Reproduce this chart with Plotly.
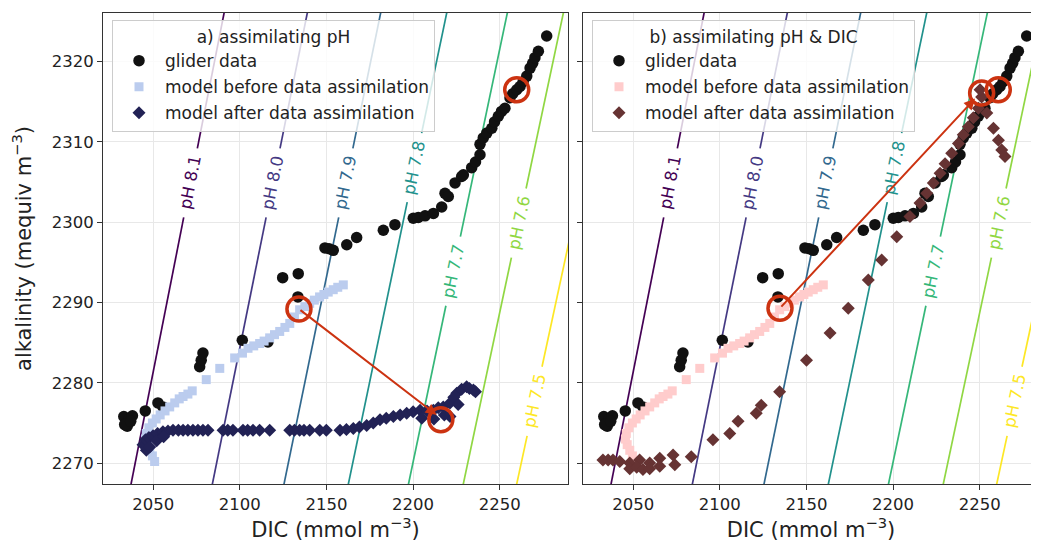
import math
import numpy as np
import plotly.graph_objects as go

# ---------------- data ----------------
glider_dic = [2033.0, 2034.5, 2036.0, 2038.0, 2035.0, 2033.5, 2037.0, 2045.4, 2052.7, 2055.6,
              2076.8, 2077.7, 2078.7, 2101.4, 2116.2, 2124.7, 2133.7, 2133.5, 2149.1, 2151.5,
              2153.9, 2161.7, 2167.4, 2182.8, 2189.5, 2200.1, 2203.0, 2206.9, 2211.7, 2216.5,
              2218.4, 2220.3, 2224.2, 2228.0, 2229.0, 2233.8, 2236.0, 2238.6, 2238.6, 2240.5,
              2242.5, 2245.4, 2247.0, 2249.2, 2251.0, 2253.0, 2255.9, 2257.5, 2259.8, 2261.7,
              2263.5, 2265.6, 2267.5, 2269.0, 2270.3, 2272.3, 2277.1]
glider_alk = [2275.8, 2275.0, 2275.5, 2275.9, 2274.6, 2274.8, 2275.2, 2276.5, 2277.5, 2277.0,
              2282.0, 2282.8, 2283.7, 2285.3, 2285.1, 2293.1, 2293.6, 2290.7, 2296.8, 2296.7,
              2296.5, 2297.2, 2298.1, 2299.0, 2299.7, 2300.5, 2300.6, 2300.8, 2301.1, 2301.9,
              2303.6, 2303.2, 2304.9, 2305.7, 2305.9, 2306.8, 2307.5, 2308.4, 2309.7, 2310.5,
              2311.1, 2311.7, 2312.5, 2313.2, 2313.8, 2314.2, 2315.5, 2316.0, 2316.5, 2316.9,
              2317.5, 2318.2, 2319.2, 2319.8, 2320.5, 2321.3, 2323.2]

before_dic = [2050.8, 2049.5, 2048.0, 2046.5, 2045.5, 2046.0, 2047.5, 2049.5, 2051.7, 2054.0,
              2056.8, 2059.5, 2062.4, 2065.0, 2067.2, 2070.0, 2072.5, 2080.6, 2088.4, 2097.0,
              2101.5, 2104.7, 2108.0, 2111.4, 2114.0, 2117.2, 2120.0, 2123.0, 2126.0, 2128.8,
              2131.5, 2134.5, 2137.5, 2140.3, 2143.0, 2146.0, 2148.5, 2151.0, 2153.9, 2156.5,
              2159.7]
before_alk = [2270.2, 2270.9, 2271.6, 2272.3, 2273.0, 2273.7, 2274.4, 2275.0, 2275.5, 2276.0,
              2276.5, 2277.0, 2277.5, 2278.0, 2278.3, 2278.6, 2279.0, 2280.4, 2281.8, 2283.1,
              2283.7, 2284.3, 2284.6, 2284.9, 2285.2, 2285.6, 2286.0, 2286.4, 2286.9, 2287.4,
              2288.2, 2289.1, 2289.5, 2289.9, 2290.3, 2290.7, 2291.0, 2291.3, 2291.6, 2291.9,
              2292.2]

after_ph_dic = [2046.0, 2044.1, 2045.5, 2047.5, 2049.9, 2052.5, 2055.6, 2058.5, 2061.4, 2064.5,
                2067.2, 2070.0, 2072.9, 2075.8, 2078.7, 2081.6, 2090.3, 2093.0, 2096.0, 2101.8,
                2104.5, 2107.6, 2111.4, 2117.2, 2128.8, 2131.5, 2134.5, 2137.0, 2140.3, 2146.1,
                2149.9, 2157.8, 2161.5, 2165.5, 2169.0, 2173.2, 2177.0, 2180.9, 2184.5, 2188.6,
                2192.5, 2196.3, 2200.0, 2204.0, 2208.0, 2211.7, 2214.5, 2217.4, 2221.3, 2221.3,
                2223.5, 2225.2, 2228.0, 2230.9, 2232.5, 2234.8, 2236.0,
                2048.0, 2052.0, 2056.0, 2205.0, 2212.0, 2218.0, 2226.0]
after_ph_alk = [2271.6, 2272.3, 2272.9, 2273.2, 2273.4, 2273.7, 2273.9, 2274.0, 2274.1, 2274.1,
                2274.1, 2274.1, 2274.1, 2274.1, 2274.1, 2274.1, 2274.1, 2274.1, 2274.1, 2274.1,
                2274.1, 2274.1, 2274.1, 2274.1, 2274.1, 2274.1, 2274.1, 2274.1, 2274.1, 2274.1,
                2274.1, 2274.1, 2274.2, 2274.3, 2274.5, 2274.7, 2275.0, 2275.4, 2275.6, 2275.8,
                2276.0, 2276.2, 2276.4, 2276.6, 2276.5, 2276.6, 2276.9, 2277.0, 2277.5, 2275.8,
                2278.2, 2278.7, 2279.2, 2279.5, 2279.3, 2279.1, 2278.9,
                2272.0, 2272.8, 2273.3, 2275.6, 2275.5, 2276.0, 2277.3]

after_both_dic = [2032.5, 2035.5, 2038.3, 2042.2, 2048.0, 2053.7, 2059.5, 2065.3, 2048.0, 2052.0,
                  2055.6, 2059.5, 2065.3, 2073.0, 2074.0, 2083.5, 2096.0, 2105.7, 2110.5, 2121.0,
                  2123.9, 2134.5, 2150.0, 2163.6, 2174.1, 2185.7, 2193.4, 2202.1, 2209.7, 2215.5,
                  2219.4, 2223.2, 2227.1, 2230.0, 2233.8, 2237.7, 2240.5, 2243.4, 2246.3, 2249.2,
                  2251.1, 2250.2, 2254.1, 2257.9, 2260.8, 2262.7, 2264.6]
after_both_alk = [2270.4, 2270.4, 2270.4, 2270.2, 2270.0, 2270.4, 2270.0, 2270.6, 2269.3, 2269.5,
                  2269.2, 2269.3, 2269.6, 2271.0, 2269.8, 2270.8, 2272.9, 2273.7, 2275.2, 2276.2,
                  2277.2, 2278.9, 2282.8, 2286.2, 2289.3, 2292.8, 2295.3, 2298.2, 2300.7, 2302.4,
                  2303.6, 2304.9, 2306.1, 2307.3, 2308.6, 2309.8, 2310.9, 2311.9, 2313.0, 2314.2,
                  2315.6, 2316.5, 2313.6, 2311.7, 2310.2, 2309.0, 2308.2]

# pH isolines: DIC where each line crosses alkalinity = ph_alk_ends[0] / ph_alk_ends[1]
ph_labels = ["8.1", "8.0", "7.9", "7.8", "7.7", "7.6", "7.5"]
ph_alk_ends = [2265.0, 2330.0]
ph_dic_low = [2035.0, 2081.9, 2123.2, 2160.3, 2195.0, 2226.6, 2257.4]
ph_dic_high = [2094.5, 2142.6, 2185.0, 2223.2, 2258.2, 2290.6, 2322.4]
ph_label_alk = [2304.9, 2304.9, 2304.9, 2306.8, 2293.9, 2299.9, 2277.7]
ph_colors = ["#440154", "#443983", "#31688e", "#21918c", "#35b779", "#90d743", "#fde725"]

# assimilation highlights (circles) and arrows (start -> tip)
circles_a_dic = [2134.1, 2216.0, 2259.8]
circles_a_alk = [2289.2, 2275.4, 2316.5]
circles_b_dic = [2134.7, 2251.1, 2260.7]
circles_b_alk = [2289.3, 2316.1, 2316.5]
arrow_a = [(2134.1, 2289.2), (2213.6, 2276.0)]
arrow_b = [(2134.7, 2289.3), (2247.3, 2315.4)]

x_ticks = [2050, 2100, 2150, 2200, 2250]
y_ticks = [2270, 2280, 2290, 2300, 2310, 2320]

# ---------------- layout constants ----------------
OFF = 8                      # page body margin offset
W, H = 1031, 537
ML, MR, MT, MB = 95, 0, 5, 61
PW, PH = W - ML - MR, H - MT - MB
PANEL_A = (0, 465)
PANEL_B = (480, PW)
XR_A = [2021.0, 2289.4]
PX_PER_DIC = (PANEL_A[1] - PANEL_A[0]) / (XR_A[1] - XR_A[0])
XR_B = [2021.0, 2021.0 + (PANEL_B[1] - PANEL_B[0]) / PX_PER_DIC]
YR = [2267.4, 2326.06]
PX_PER_ALK = PH / (YR[1] - YR[0])
PLOT_LEFT, PLOT_TOP = OFF + ML, OFF + MT

RED = "#CC3311"
FONT = "DejaVu Sans"
FS = 17
FT = 21
GAP = 4.3  # half gap (alkalinity units) left around inline labels

fig = go.Figure()


def add_panel(xa, ya, legend, after_dic, after_alk, before_color, after_color,
              circ_dic, circ_alk):
    # pH isolines with inline gaps for labels
    for lab, lo, hi, la, col in zip(ph_labels, ph_dic_low, ph_dic_high, ph_label_alk, ph_colors):
        a0, a1 = ph_alk_ends
        g0, g1 = la - GAP, la + GAP
        d = lambda a: float(np.interp(a, [a0, a1], [lo, hi]))
        fig.add_trace(go.Scatter(
            x=[lo, d(g0), None, d(g1), hi], y=[a0, g0, None, g1, a1],
            mode="lines", line=dict(color=col, width=1.7),
            xaxis=xa, yaxis=ya, showlegend=False, hoverinfo="skip"))
        ang = math.degrees(math.atan2((a1 - a0) * PX_PER_ALK, (hi - lo) * PX_PER_DIC))
        fig.add_annotation(x=d(la), y=la, xref=xa, yref=ya, text="pH " + lab,
                           showarrow=False, textangle=-ang,
                           font=dict(family=FONT, size=16.5, color=col))
    fig.add_trace(go.Scatter(
        x=glider_dic, y=glider_alk, mode="markers", name="glider data",
        marker=dict(color="#111111", size=11.5, symbol="circle"),
        xaxis=xa, yaxis=ya, legend=legend, legendgroup=legend + "g1"))
    fig.add_trace(go.Scatter(
        x=before_dic, y=before_alk, mode="markers", name="model before data assimilation",
        marker=dict(color=before_color, size=9, symbol="square"),
        xaxis=xa, yaxis=ya, legend=legend, legendgroup=legend + "g2"))
    fig.add_trace(go.Scatter(
        x=after_dic, y=after_alk, mode="markers", name="model after data assimilation",
        marker=dict(color=after_color, size=10, symbol="diamond"),
        xaxis=xa, yaxis=ya, legend=legend, legendgroup=legend + "g3"))
    fig.add_trace(go.Scatter(
        x=circ_dic, y=circ_alk, mode="markers",
        marker=dict(color=RED, size=24, symbol="circle-open", line=dict(width=3.5, color=RED)),
        xaxis=xa, yaxis=ya, showlegend=False, hoverinfo="skip"))


add_panel("x", "y", "legend", after_ph_dic, after_ph_alk, "#BBCCEE", "#222255",
          circles_a_dic, circles_a_alk)
add_panel("x2", "y2", "legend2", after_both_dic, after_both_alk, "#FFCCCC", "#663333",
          circles_b_dic, circles_b_alk)

for (start, tip), xa, ya in [(arrow_a, "x", "y"), (arrow_b, "x2", "y2")]:
    fig.add_annotation(x=tip[0], y=tip[1], ax=start[0], ay=start[1],
                       xref=xa, yref=ya, axref=xa, ayref=ya, text="",
                       showarrow=True, arrowhead=2, arrowsize=1.1, arrowwidth=2,
                       arrowcolor=RED, standoff=0, startstandoff=0)

axis_common = dict(
    showgrid=True, gridcolor="#e8e8e8", gridwidth=1,
    showline=True, linecolor="#333333", linewidth=1,
    ticks="outside", ticklen=5, tickcolor="#333333",
    tickfont=dict(family=FONT, size=16.5, color="#222222"),
    zeroline=False,
)

legend_common = dict(
    bgcolor="rgba(255,255,255,0.8)", bordercolor="#cccccc", borderwidth=1,
    font=dict(family=FONT, size=FS, color="#222222"),
    xanchor="left", yanchor="top", tracegroupgap=1,
    itemsizing="trace", itemwidth=42,
)

XTITLE = dict(text="DIC (mmol m<sup>−3</sup>)", font=dict(family=FONT, size=FT), standoff=8)

fig.update_layout(
    width=W, height=H,
    margin=dict(l=ML, r=MR, t=MT, b=MB),
    plot_bgcolor="white", paper_bgcolor="white",
    font=dict(family=FONT, color="#222222"),
    xaxis=dict(domain=[PANEL_A[0] / PW, PANEL_A[1] / PW], range=XR_A, tickvals=x_ticks,
               mirror=True, title=XTITLE, **axis_common),
    xaxis2=dict(domain=[PANEL_B[0] / PW, 1.0], range=XR_B, tickvals=x_ticks,
                mirror=True, anchor="y2", title=XTITLE, **axis_common),
    yaxis=dict(range=YR, tickvals=y_ticks, mirror=True,
               title=dict(text="alkalinity (mequiv m<sup>−3</sup>)",
                          font=dict(family=FONT, size=FT), standoff=16),
               **axis_common),
    yaxis2=dict(range=YR, tickvals=y_ticks, matches="y", anchor="x2",
                showticklabels=False, mirror=False, **axis_common),
    legend=dict(x=(112 - PLOT_LEFT) / PW, y=1 - (20 - PLOT_TOP) / PH,
                title=dict(text="a) assimilating pH", side="top center",
                           font=dict(family=FONT, size=FS, color="#222222")),
                **legend_common),
    legend2=dict(x=(592 - PLOT_LEFT) / PW, y=1 - (20 - PLOT_TOP) / PH,
                 title=dict(text="b) assimilating pH &amp; DIC", side="top center",
                            font=dict(family=FONT, size=FS, color="#222222")),
                 **legend_common),
    showlegend=True,
)

fig.write_html("out.html")
